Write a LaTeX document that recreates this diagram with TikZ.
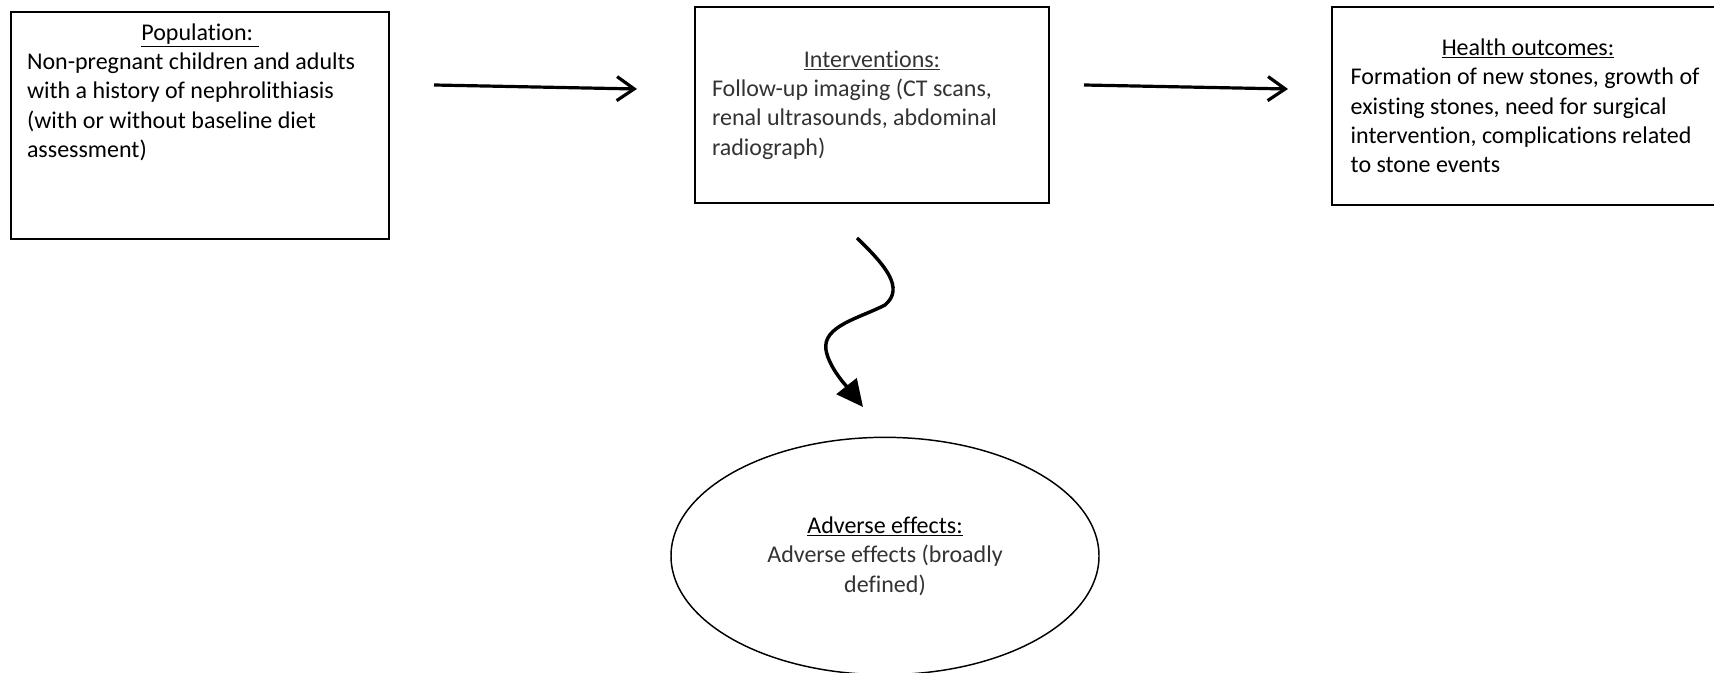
\documentclass[tikz,border=0pt]{standalone}
\usepackage{fontspec}
\setmainfont{Carlito}[Ligatures=NoCommon]
\usetikzlibrary{arrows.meta, shapes.geometric}
\newcommand{\boxtitle}[1]{\makebox[\linewidth]{\underline{#1}}\\}

\begin{document}
\begin{tikzpicture}[x=0.75pt, y=-0.75pt,
    box/.style={draw, rectangle, line width=1.6pt, align=flush left, inner xsep=0pt, font=\fontsize{18pt}{22pt}\selectfont},
    oval/.style={draw, ellipse, line width=1.1pt, align=center, font=\fontsize{18pt}{22pt}\selectfont},
    arr/.style={line width=2.4pt, -{Straight Barb[length=13pt, width=18pt]}},
    wavy/.style={line width=2.6pt, -{Triangle[length=20pt, width=19pt]}}]

    \useasboundingbox[fill=white] (0,0) rectangle (1714,673);

    \node [box, text width=259.5pt, minimum width=283.5pt, inner ysep=8pt, text height=13pt, text depth=141pt, anchor=north] (pop) at (200,11)
        {\boxtitle{Population:\ }Non-pregnant children and adults\\with a history of nephrolithiasis\\(with or without baseline diet\\assessment)};
    \node [box, text=black!80, text width=240pt, minimum width=265.5pt, minimum height=147pt] (int) at (872,105)
        {\boxtitle{Interventions:}Follow-up imaging (CT scans,\\renal ultrasounds, abdominal\\radiograph)};
    \node [box, text width=266pt, minimum width=294pt, minimum height=148.5pt] (health) at (1528,106)
        {\boxtitle{Health outcomes:}Formation of new stones, growth of\\existing stones, need for surgical\\intervention, complications related\\to stone events};
    \node [oval, text=black!80, minimum width=321pt, minimum height=178pt] (adv) at (885,556)
        {{\color{black}\underline{Adverse effects:}}\\Adverse effects (broadly\\defined)};

    \coordinate (popout) at (434,85);
    \coordinate (intin) at (637,89);
    \coordinate (intout) at (1084,85);
    \coordinate (healthin) at (1288,89);
    \coordinate (wavytop) at (857,238);
    \coordinate (wavytip) at (863,407);

    \draw [arr] (popout) -- (intin);
    \draw [arr] (intout) -- (healthin);
    \draw [wavy] (wavytop) .. controls (885,265) and (905,288) .. (885,305)
        .. controls (860,318) and (822,326) .. (826,350)
        .. controls (829,368) and (848,388) .. (wavytip);
\end{tikzpicture}
\end{document}
